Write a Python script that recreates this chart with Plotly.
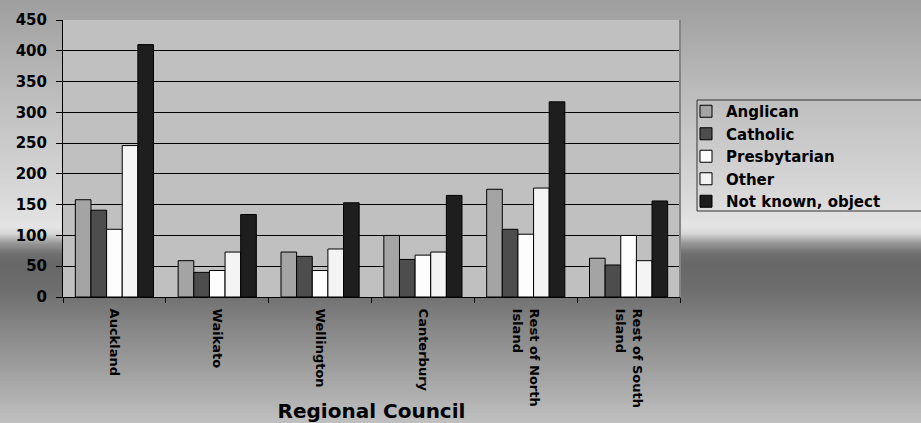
import plotly.graph_objects as go

# ---- data ----
regions = ["Auckland", "Waikato", "Wellington", "Canterbury",
           "Rest of North<br>Island", "Rest of South<br>Island"]
series_names = ["Anglican", "Catholic", "Presbytarian", "Other", "Not known, object"]
anglican = [158, 59, 73, 100, 175, 63]
catholic = [141, 40, 66, 61, 110, 52]
presbyterian = [110, 43, 43, 68, 102, 100]
other = [246, 73, 78, 73, 177, 59]
not_known = [410, 134, 153, 165, 317, 156]
y_ticks = [0, 50, 100, 150, 200, 250, 300, 350, 400, 450]

# ---- styles ----
colors = ["#a4a4a4", "#4d4d4d", "#fdfdfd", "#f4f4f4", "#1e1e1e"]
W, H = 921, 423
ML, MR, MT, MB = 63, 241, 20, 126
PW, PH = W - ML - MR, H - MT - MB

fig = go.Figure()
for name, vals, col in zip(series_names,
                           [anglican, catholic, presbyterian, other, not_known],
                           colors):
    fig.add_trace(go.Bar(name=name, x=regions, y=vals,
                         marker=dict(color=col, line=dict(color="#000000", width=1))))

# background gradient (figure fill) built from thin strips
grad_stops = [(0, 158), (100, 190), (200, 218), (227, 228), (234, 215), (244, 150),
              (254, 112), (264, 104), (287, 108), (330, 135), (380, 165), (423, 192)]


def gray_at(y):
    for (y0, g0), (y1, g1) in zip(grad_stops[:-1], grad_stops[1:]):
        if y0 <= y <= y1:
            return round(g0 + (g1 - g0) * (y - y0) / (y1 - y0))
    return grad_stops[-1][1]


def py(ypx):
    return (H - MB - ypx) / PH


shapes = []
start = 0
cur = gray_at(0.5)
for ypx in range(1, H + 1):
    g = gray_at(ypx + 0.5) if ypx < H else None
    if g != cur:
        shapes.append(dict(type="rect", xref="paper", yref="paper",
                           x0=-ML / PW - 0.05, x1=(W - ML) / PW + 0.05,
                           y0=py(start - 0.6), y1=py(ypx + 0.6),
                           fillcolor=f"rgb({cur},{cur},{cur})",
                           line=dict(width=0), layer="below"))
        start = ypx
        cur = g
# plot area fill
shapes.append(dict(type="rect", xref="paper", yref="paper", x0=0, x1=1, y0=0, y1=1,
                   fillcolor="#c0c0c0", line=dict(width=0), layer="below"))
# right border of plot area
shapes.append(dict(type="line", xref="paper", yref="paper", x0=1, x1=1, y0=0, y1=1,
                   line=dict(color="#858585", width=2), layer="above"))
# legend box (runs off the right edge)
lx0 = (697 - ML) / PW
lx1 = (W + 10 - ML) / PW
shapes.append(dict(type="rect", xref="paper", yref="paper", x0=lx0, x1=lx1,
                   y0=py(211), y1=py(100),
                   line=dict(color="#333333", width=1), layer="above"))

font_main = dict(family="DejaVu Sans", weight="bold", color="#000000")

fig.update_layout(
    width=W, height=H,
    margin=dict(l=ML, r=MR, t=MT, b=MB, pad=0, autoexpand=False),
    paper_bgcolor="#bbbbbb",
    plot_bgcolor="#c0c0c0",
    barmode="group", bargap=0.24, bargroupgap=0,
    shapes=shapes,
    showlegend=True,
    legend=dict(x=(686 - ML) / PW, xanchor="left", y=py(95), yanchor="top",
                bgcolor="rgba(0,0,0,0)", borderwidth=0,
                font=dict(size=15, **font_main), itemwidth=30,
                tracegroupgap=0),
    xaxis=dict(
        automargin=False,
        tickangle=90, tickfont=dict(size=13, **font_main), ticklabelstandoff=8,
        showline=True, linecolor="#000000", linewidth=1,
        ticks="outside", tickson="boundaries", ticklen=5, tickcolor="#000000",
        showgrid=False,
        title=dict(text="Regional Council", font=dict(size=20, **font_main), standoff=13),
    ),
    yaxis=dict(
        automargin=False,
        range=[0, 450], tickvals=y_ticks, tickfont=dict(size=15, **font_main),
        ticklabelstandoff=6,
        showline=True, linecolor="#000000", linewidth=1,
        ticks="outside", ticklen=6, tickcolor="#000000",
        showgrid=True, gridcolor="#000000", gridwidth=1, zeroline=False,
    ),
)

fig.write_html("out.html")
